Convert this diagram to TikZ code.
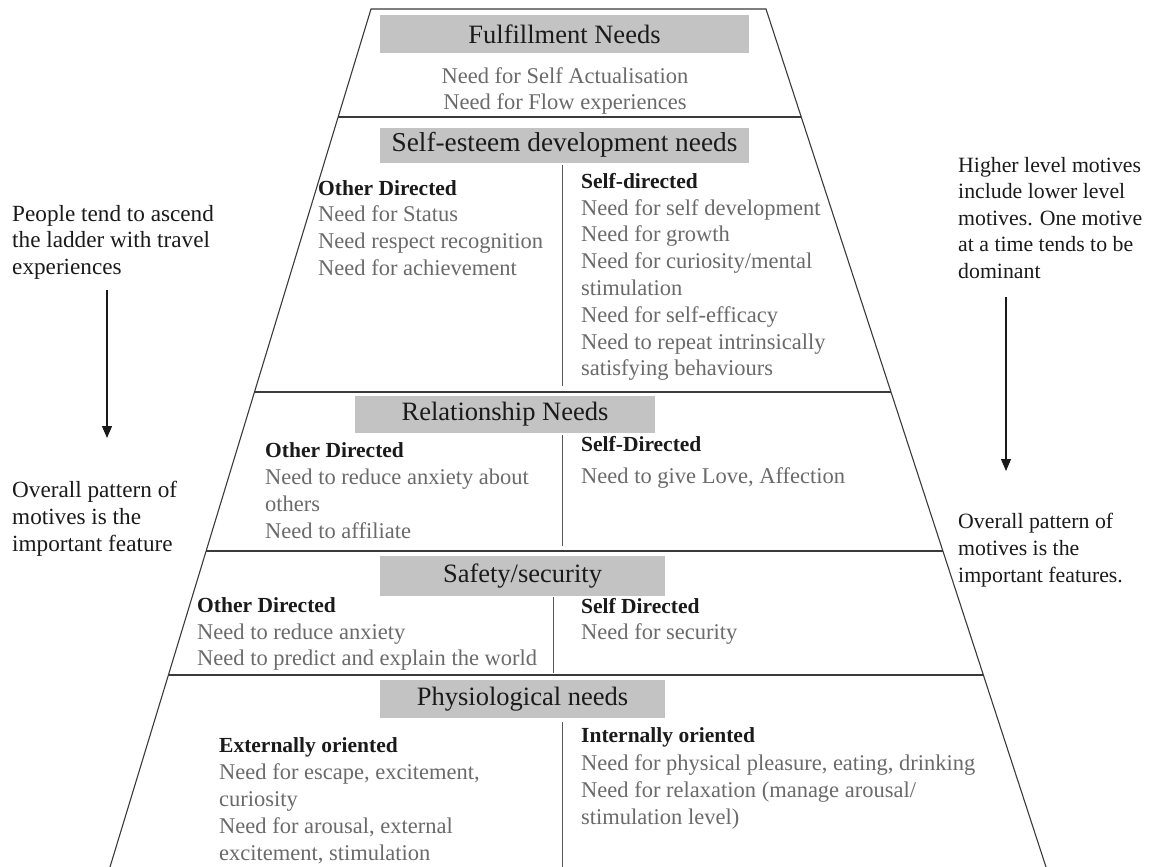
\documentclass[tikz,border=0pt]{standalone}
\usepackage{fontspec}
\setmainfont{Liberation Serif}
\usetikzlibrary{calc,arrows.meta}
\definecolor{bodygray}{HTML}{6A6A6A}
\definecolor{boxgray}{HTML}{C3C3C3}
\definecolor{inkdark}{HTML}{1A1A1A}
\definecolor{rulegray}{HTML}{3A3A3A}

\begin{document}
\begin{tikzpicture}[x=1pt,y=-1pt,
  hdr/.style={fill=boxgray, inner sep=0pt, text=inkdark, font=\fontsize{26.5}{30}\selectfont},
  lvl/.style={anchor=base west, inner sep=0pt, text=bodygray, font=\fontsize{22.5}{27}\selectfont},
  lvlc/.style={lvl, anchor=base},
  sub/.style={anchor=base west, inner sep=0pt, text=inkdark, font=\fontsize{21.5}{27}\selectfont\bfseries},
  note/.style={anchor=base west, inner sep=0pt, text=inkdark, font=\fontsize{22.5}{27}\selectfont},
  rim/.style={draw=rulegray, line width=1.1pt},
  split/.style={draw=rulegray!85, line width=0.9pt},
  flow/.style={draw=inkdark, line width=1.1pt, -{Triangle[width=10pt,length=12pt]}}
]
\useasboundingbox (0,0) rectangle (1151,867);

% ladder outline
\coordinate (TL) at (371,9);
\coordinate (TR) at (766,9);
\coordinate (BL) at (110,867);
\coordinate (BR) at (1046,867);
\draw[rim] (BL) -- (TL) -- (TR) -- (BR);

% tier boundaries
\foreach \yy in {117,392,551,675}{
  \draw[rim] ($(TL)!{(\yy-9)/858}!(BL)$) -- ($(TR)!{(\yy-9)/858}!(BR)$);
}

% ---------- Fulfillment ----------
\node[hdr, minimum width=369pt, minimum height=38pt] (h1) at (564.5,34) {Fulfillment Needs};
\node[lvlc] (f1) at (565,84) {Need for Self Actualisation};
\node[lvlc] (f2) at (565,109) {Need for Flow experiences};

% ---------- Self-esteem ----------
\node[hdr, minimum width=369pt, minimum height=35pt, font=\fontsize{27.3}{30}\selectfont] (h2) at (564.5,145) {Self-esteem development needs};
\draw[split] (562,165) -- (562,386);
\node[sub] (se-l) at (318,195) {Other Directed};
\foreach \t [count=\i] in {Need for Status, Need respect recognition, Need for achievement}
  \node[lvl] (se-l\i) at (318,{221+27*(\i-1)}) {\t};
\node[sub] (se-r) at (581,188) {Self-directed};
\foreach \t [count=\i] in {Need for self development, Need for growth, Need for curiosity/mental, stimulation, Need for self-efficacy, Need to repeat intrinsically, satisfying behaviours}
  \node[lvl] (se-r\i) at (581,{215+26.8*(\i-1)}) {\t};

% ---------- Relationship ----------
\node[hdr, minimum width=300pt, minimum height=37pt] (h3) at (505,414) {Relationship Needs};
\draw[split] (562,435) -- (562,546);
\node[sub] (re-l) at (265,457) {Other Directed};
\foreach \t [count=\i] in {Need to reduce anxiety about, others, Need to affiliate}
  \node[lvl] (re-l\i) at (265,{484+27*(\i-1)}) {\t};
\node[sub] (re-r) at (581,451) {Self-Directed};
\node[lvl] (re-r1) at (581,483) {Need to give Love, Affection};

% ---------- Safety ----------
\node[hdr, minimum width=285pt, minimum height=40pt] (h4) at (522.5,576) {Safety/security};
\draw[split] (553,597) -- (553,673);
\node[sub] (sa-l) at (197,612) {Other Directed};
\node[lvl] (sa-l1) at (197,639) {Need to reduce anxiety};
\node[lvl] (sa-l2) at (197,665) {Need to predict and explain the world};
\node[sub] (sa-r) at (581,613) {Self Directed};
\node[lvl] (sa-r1) at (581,639) {Need for security};

% ---------- Physiological ----------
\node[hdr, minimum width=285pt, minimum height=38pt] (h5) at (522.5,699) {Physiological needs};
\draw[split] (562,722) -- (562,867);
\node[sub] (ph-l) at (219,752) {Externally oriented};
\foreach \t [count=\i] in {{Need for escape, excitement,}, curiosity, {Need for arousal, external}, {excitement, stimulation}}
  \node[lvl] (ph-l\i) at (219,{779+27*(\i-1)}) {\t};
\node[sub] (ph-r) at (581,742) {Internally oriented};
\foreach \t [count=\i] in {{Need for physical pleasure, eating, drinking}, Need for relaxation (manage arousal/, stimulation level)}
  \node[lvl] (ph-r\i) at (581,{770+27*(\i-1)}) {\t};

% ---------- side notes ----------
\foreach \t [count=\i] in {People tend to ascend, the ladder with travel, experiences}
  \node[note, font=\fontsize{23.2}{27}\selectfont] (lt\i) at (12,{221+26.5*(\i-1)}) {\t};
\coordinate (la0) at (107,290);
\coordinate (la1) at (107,438);
\draw[flow] (la0) -- (la1);
\foreach \t [count=\i] in {Overall pattern of, motives is the, important feature}
  \node[note, font=\fontsize{23.2}{27}\selectfont] (lb\i) at (12,{497+27*(\i-1)}) {\t};

\foreach \t [count=\i] in {Higher level motives, include lower level, motives. One motive, at a time tends to be, dominant}
  \node[note, font=\fontsize{21.8}{27}\selectfont] (rt\i) at (958,{172+26.6*(\i-1)}) {\t};
\coordinate (ra0) at (1006,297);
\coordinate (ra1) at (1006,471);
\draw[flow] (ra0) -- (ra1);
\foreach \t [count=\i] in {Overall pattern of, motives is the, important features.}
  \node[note, font=\fontsize{21.8}{27}\selectfont] (rb\i) at (958,{528+27*(\i-1)}) {\t};
\end{tikzpicture}
\end{document}
